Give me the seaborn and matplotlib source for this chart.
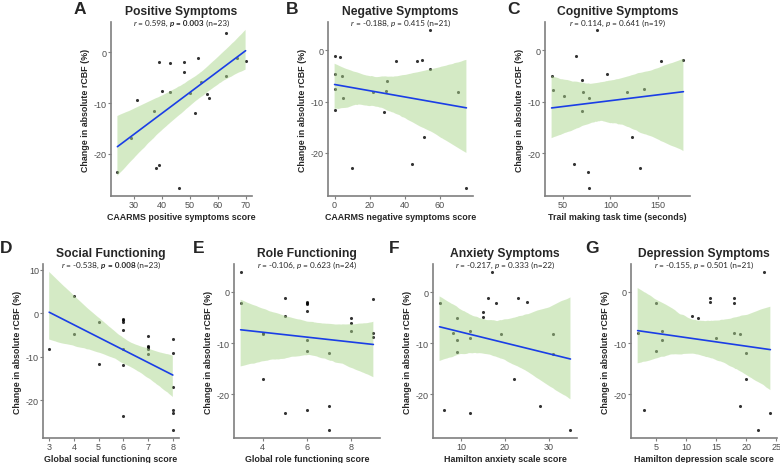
import matplotlib
matplotlib.use("Agg")
import matplotlib.pyplot as plt
import seaborn as sns
import numpy as np

# ==============================================
# DATOS
# ==============================================
pos_x = [63, 39, 43, 48, 48, 53, 67, 70, 54, 63, 40, 43, 50, 56, 57, 31, 52, 37, 29, 38, 39, 46, 24]
pos_y = [3.8, -2.0, -2.1, -1.9, -3.8, -1.1, -1.2, -1.8, -5.9, -4.7, -7.6, -7.8, -8.1, -8.2, -9.0,
         -9.4, -11.9, -11.6, -16.9, -22.8, -22.1, -26.7, -23.5]

neg_x = [54, 0, 3, 35, 47, 50, 54, 0, 4, 30, 0, 5, 22, 29, 70, 0, 28, 51, 10, 44, 75]
neg_y = [4.0, -1.0, -1.2, -2.0, -2.1, -1.8, -3.7, -4.6, -5.1, -5.9, -7.5, -9.3, -8.2, -7.9, -8.2,
         -11.6, -12.0, -16.9, -23.0, -22.2, -26.9]

cog_x = [86, 64, 153, 177, 96, 38, 70, 40, 71, 117, 135, 51, 77, 70, 123, 62, 131, 76, 77]
cog_y = [3.9, -1.2, -2.1, -1.9, -4.7, -5.1, -5.9, -7.8, -8.2, -8.1, -7.5, -8.9, -9.3, -11.9,
         -16.9, -22.2, -22.9, -23.6, -26.8]

soc_x = [4, 4, 3, 5, 5, 6, 6, 6, 6, 6, 6, 6, 7, 7, 7, 7, 7, 8, 8, 8, 8, 8, 8]
soc_y = [3.9, -4.7, -8.1, -1.9, -11.6, -1.2, -1.6, -2.0, -3.8, -8.2, -11.9, -23.5, -5.1, -7.5,
         -7.8, -8.1, -9.3, -5.9, -9.0, -16.9, -22.2, -22.8, -26.8]

rol_x = [3, 3, 5, 5, 5, 4, 4, 4, 6, 6, 6, 6, 6, 6, 6, 7, 7, 7, 8, 8, 8, 9, 9, 9]
rol_y = [3.9, -2.1, -1.1, -4.8, -23.6, -8.3, -8.0, -17.1, -2.0, -2.3, -2.1, -3.8, -9.4, -11.6,
         -23.1, -12.0, -22.3, -27.0, -5.1, -6.0, -7.6, -1.3, -8.0, -8.9]

anx_x = [17, 5, 16, 18, 23, 25, 15, 15, 9, 12, 8, 19, 31, 12, 9, 9, 31, 22, 6, 12, 28, 35]
anx_y = [4.0, -2.1, -1.2, -2.1, -1.1, -1.9, -3.8, -4.8, -5.1, -7.5, -7.9, -8.2, -8.2, -9.0,
         -9.4, -11.6, -12.0, -17.0, -23.0, -23.6, -22.3, -27.0]

dep_x = [23, 5, 14, 14, 18, 18, 11, 12, 2, 6, 6, 5, 15, 18, 19, 20, 20, 3, 19, 22, 24]
dep_y = [3.9, -2.1, -1.2, -1.9, -1.2, -2.2, -4.8, -5.1, -8.0, -7.6, -9.4, -11.6, -9.0, -8.1,
         -8.3, -12.0, -17.0, -23.0, -22.3, -27.0, -23.6]

# ==============================================
# TEXTOS Y TICKS
# ==============================================
letras = ["A", "B", "C", "D", "E", "F", "G"]
titulos = ["Positive Symptoms", "Negative Symptoms", "Cognitive Symptoms", "Social Functioning",
           "Role Functioning", "Anxiety Symptoms", "Depression Symptoms"]
r_vals = ["0.598", "-0.188", "0.114", "-0.538", "-0.106", "-0.217", "-0.155"]
p_vals = ["0.003", "0.415", "0.641", "0.008", "0.623", "0.333", "0.501"]
p_sig = [True, False, False, True, False, False, False]
n_vals = [23, 21, 19, 23, 24, 22, 21]
xlabels = ["CAARMS positive symptoms score", "CAARMS negative symptoms score",
           "Trail making task time (seconds)", "Global social functioning score",
           "Global role functioning score", "Hamilton anxiety scale score",
           "Hamilton depression scale score"]
xticks = [[30, 40, 50, 60, 70], [0, 20, 40, 60], [50, 100, 150], [3, 4, 5, 6, 7, 8],
          [4, 6, 8], [10, 20, 30], [5, 10, 15, 20, 25]]
yticks = [[-20, -10, 0]] * 3 + [[-20, -10, 0, 10]] + [[-20, -10, 0]] * 3
ylabel = "Change in absolute rCBF (%)"

datos = [(pos_x, pos_y), (neg_x, neg_y), (cog_x, cog_y), (soc_x, soc_y),
         (rol_x, rol_y), (anx_x, anx_y), (dep_x, dep_y)]

# ==============================================
# ESTILO
# ==============================================
sns.set_style("ticks")
plt.rcParams["font.family"] = ["Liberation Sans", "DejaVu Sans"]
plt.rcParams["axes.unicode_minus"] = False

W, H = 780, 464
# posicion de cada panel en pixeles: izquierda, arriba, derecha, abajo
cajas = [(111, 23, 252, 197), (328, 23, 473, 197), (545, 23, 690, 197),
         (43, 265, 179, 439), (234, 265, 380, 439), (433, 265, 577, 439), (631, 265, 777, 439)]
pos_letras = [(80, 10), (292, 10), (513, 10), (6, 249), (199, 249), (394, 249), (592, 249)]

COLOR_LINEA = "#1a3ee6"
COLOR_BANDA = "#abd78d"
GRIS = "#7f7f7f"
FUENTE_SUB = ["Lato", "DejaVu Sans"]

fig = plt.figure(figsize=(W / 100, H / 100), dpi=100)
renderer = fig.canvas.get_renderer()

for i, (x, y) in enumerate(datos):
    l, t, r, b = cajas[i]
    ax = fig.add_axes([l / W, 1 - b / H, (r - l) / W, (b - t) / H])
    sns.regplot(x=np.array(x, dtype=float), y=np.array(y), ax=ax, ci=95, n_boot=1000, seed=3,
                color=COLOR_LINEA, line_kws=dict(lw=1.2),
                scatter_kws=dict(color="black", s=5, linewidths=0))
    # banda verde semitransparente (encima de los puntos, como en ggplot)
    for coll in ax.collections[1:]:
        coll.set_facecolor(COLOR_BANDA)
        coll.set_edgecolor("none")
        coll.set_alpha(0.5)

    ax.set_xticks(xticks[i])
    ax.set_yticks(yticks[i])
    ax.tick_params(labelsize=6.5, labelcolor="#4d4d4d", color=GRIS, length=2, width=0.8, pad=1)
    sns.despine(ax=ax)
    for s in ["left", "bottom"]:
        ax.spines[s].set_color(GRIS)
        ax.spines[s].set_linewidth(1.2)
    ax.set_xlabel(xlabels[i], fontsize=6.4, fontweight="bold", labelpad=2)
    ax.set_ylabel(ylabel, fontsize=6.4, fontweight="bold", labelpad=3)

    cx = (l + r) / 2 / W
    fig.text(cx, 1 - (t - 11) / H, titulos[i], ha="center", va="center",
             fontsize=8.7, fontweight="bold")

    # subtitulo por partes para poder usar cursiva y negrita
    peso = "bold" if p_sig[i] else "normal"
    partes = [("r", "italic", "normal"), (f" = {r_vals[i]}, ", "normal", "normal"),
              ("p", "italic", peso), (f" = {p_vals[i]}", "normal", peso),
              (f" (n={n_vals[i]})", "normal", "normal")]
    objs, anchos = [], []
    for txt, estilo, w in partes:
        o = fig.text(0, 1 - (t + 0.5) / H, txt, ha="left", va="center", fontsize=5.9,
                     fontstyle=estilo, fontweight=w, family=FUENTE_SUB)
        objs.append(o)
        anchos.append(o.get_window_extent(renderer).width)
    x0 = cx * W - sum(anchos) / 2
    for o, a in zip(objs, anchos):
        o.set_x(x0 / W)
        x0 += a

for letra, (px, py) in zip(letras, pos_letras):
    fig.text(px / W, 1 - py / H, letra, ha="center", va="center", fontsize=12.5, fontweight="bold")

fig.savefig("out.png", dpi=100)
